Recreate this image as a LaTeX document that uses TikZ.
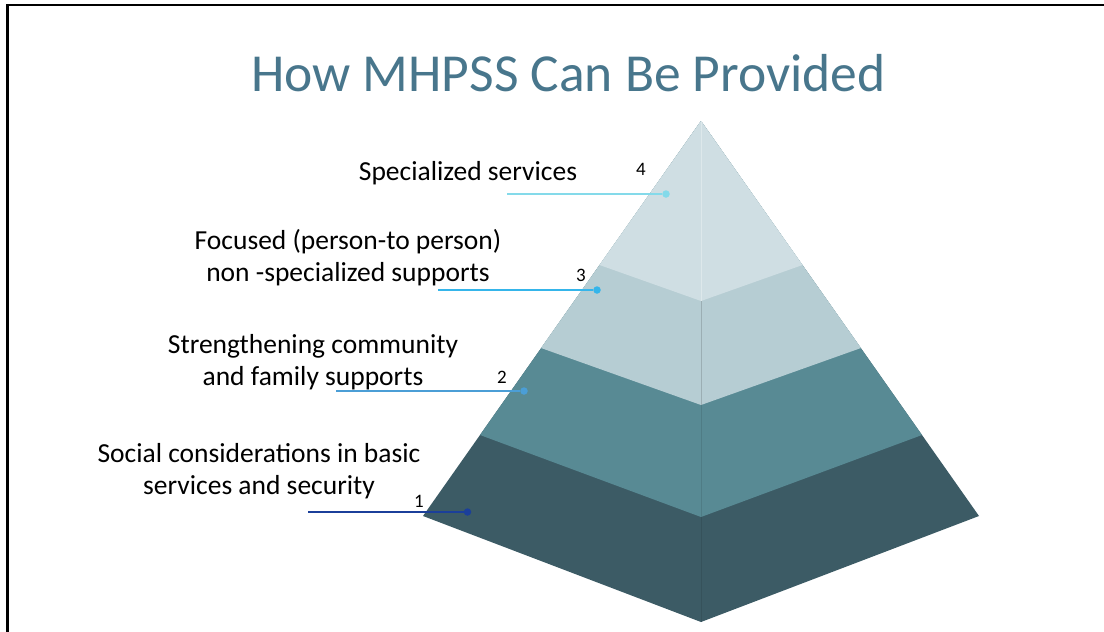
\documentclass[tikz,border=0pt]{standalone}
\usepackage{fontspec}
\setmainfont{Carlito}
\usetikzlibrary{calc}
\definecolor{cTitle}{HTML}{48768C}
\definecolor{cTierA}{HTML}{3C5B65}
\definecolor{cTierB}{HTML}{588A94}
\definecolor{cTierC}{HTML}{B6CDD3}
\definecolor{cTierD}{HTML}{CFDEE3}
\definecolor{cLeadA}{HTML}{1B3F9A}
\definecolor{cLeadB}{HTML}{4B9ED6}
\definecolor{cLeadC}{HTML}{35B5EA}
\definecolor{cLeadD}{HTML}{84DAEA}

\begin{document}
\begin{tikzpicture}[
  x=1pt,y=-1pt,
  lbl/.style={font=\fontsize{27.5}{32}\selectfont,color=black,align=center,anchor=base,inner sep=0pt},
  num/.style={font=\fontsize{19}{21}\selectfont,color=black,anchor=base,inner sep=0pt},
  dot/.style={circle,fill,inner sep=0pt,minimum size=7.5pt},
  lead/.style={line width=1.4pt},
  seam/.style={line width=0.6pt},
]
\useasboundingbox (0,0) rectangle (1104,632);

% slide frame
\draw[line width=2.5pt] (7.5,640) -- (7.5,5) -- (1110,5);

% title
\node[font=\fontsize{53.5}{56}\selectfont,color=cTitle,anchor=base,inner sep=0pt] (title)
  at (568.5,91) {How MHPSS Can Be Provided};

% ====================================================== pyramid corners
\coordinate (apex) at (701,121);
\coordinate (L4) at (599.5,265); \coordinate (C4) at (701,301); \coordinate (R4) at (802.5,265);
\coordinate (L3) at (541,348);   \coordinate (C3) at (701,405); \coordinate (R3) at (861,348);
\coordinate (L2) at (480,435);   \coordinate (C2) at (701,517); \coordinate (R2) at (922,435);
\coordinate (L1) at (423,516);   \coordinate (C1) at (701,622); \coordinate (R1) at (979,516);

% tiers, bottom up, each one reaching to the apex
\fill[cTierA] (apex) -- (R1) -- (C1) -- (L1) -- cycle;
\fill[cTierB] (apex) -- (R2) -- (C2) -- (L2) -- cycle;
\fill[cTierC] (apex) -- (R3) -- (C3) -- (L3) -- cycle;
\fill[cTierD] (apex) -- (R4) -- (C4) -- (L4) -- cycle;

% front edge
\draw[seam,cTierD!70!white] (apex) -- (C4);
\draw[seam,cTierC!85!black] (C4) -- (C3);
\draw[seam,cTierB!90!black] (C3) -- (C2);
\draw[seam,cTierA!90!black] (C2) -- (C1);

% ====================================================== leaders
\node[dot,color=cLeadD] (d4) at (666,194) {};
\node[dot,color=cLeadC] (d3) at (597,290) {};
\node[dot,color=cLeadB] (d2) at (524,391) {};
\node[dot,color=cLeadA] (d1) at (467.5,512) {};
\coordinate (e4) at (507,194);
\coordinate (e3) at (438,290);
\coordinate (e2) at (336,391);
\coordinate (e1) at (308,512);
\draw[lead,cLeadD] (e4) -- (d4);
\draw[lead,cLeadC] (e3) -- (d3);
\draw[lead,cLeadB] (e2) -- (d2);
\draw[lead,cLeadA] (e1) -- (d1);

\node[num] (n4) at (641,175) {4};
\node[num] (n3) at (581,281.5) {3};
\node[num] (n2) at (502,383.5) {2};
\node[num] (n1) at (419,507.5) {1};

% ====================================================== tier labels
% (base = baseline of the last line)
\node[lbl] (t4) at (468,180) {Specialized services};
\node[lbl] (t3) at (348,281.7) {Focused (person-to person)\\non -specialized supports};
\node[lbl] (t2) at (313,385) {Strengthening community\\and family supports};
\node[lbl] (t1) at (259,494) {Social considerations in basic\\services and security};

\end{tikzpicture}
\end{document}
